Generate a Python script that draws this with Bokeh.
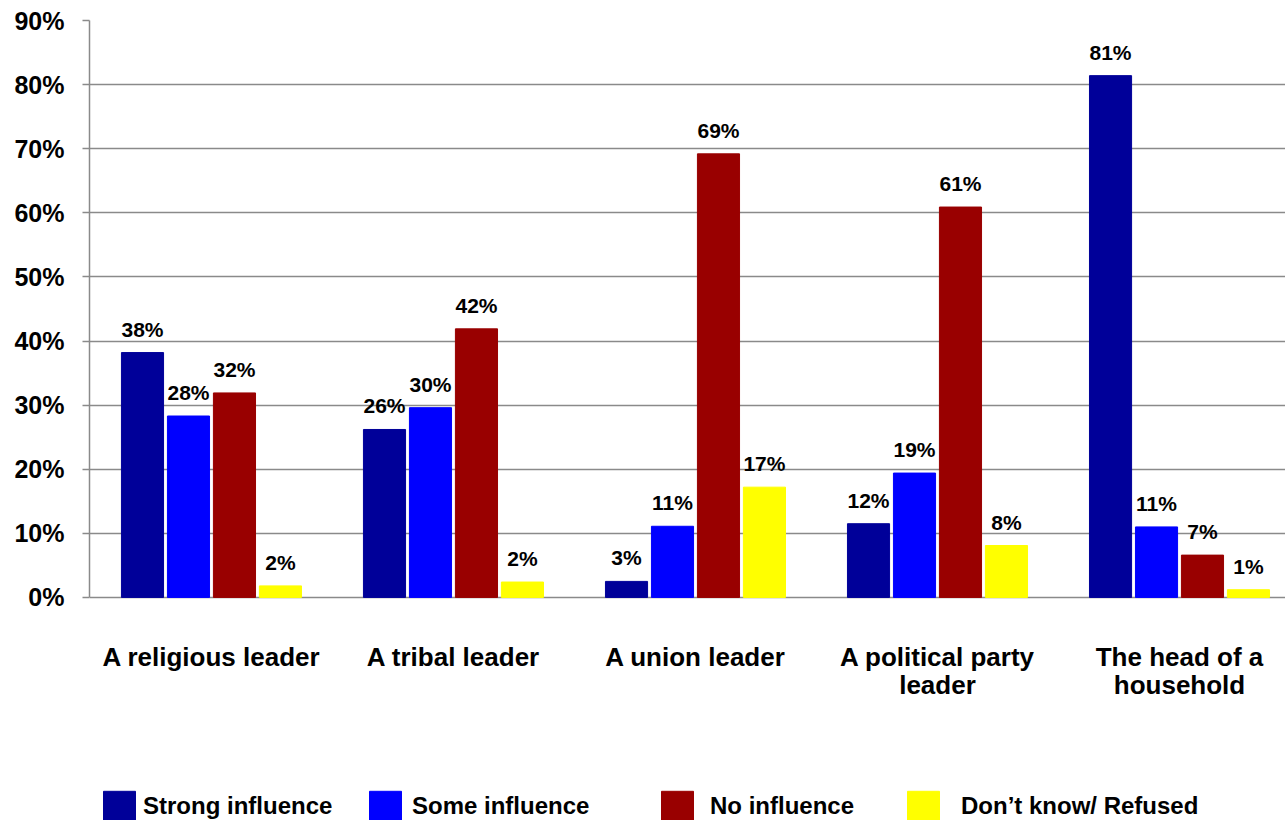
from bokeh.plotting import figure
from bokeh.models import (ColumnDataSource, Range1d, FixedTicker, Legend, LegendItem)
from bokeh.transform import dodge
from bokeh.core.properties import value
from bokeh.embed import file_html
from bokeh.resources import INLINE

# ---- data ----
categories = ["A religious leader", "A tribal leader", "A union leader",
              "A political party\nleader", "The head of a\nhousehold"]
series_names = ["Strong influence", "Some influence", "No influence", "Don\u2019t know/ Refused"]
strong = [38.2, 26.2, 2.5, 11.5, 81.4]
some = [28.3, 29.6, 11.1, 19.4, 11.0]
no_infl = [31.9, 41.9, 69.2, 60.9, 6.6]
dont_know = [1.8, 2.4, 17.2, 8.1, 1.2]
y_ticks = [0, 10, 20, 30, 40, 50, 60, 70, 80, 90]
colors = ["#000099", "#0000FF", "#990000", "#FFFF00"]

FONT = "Liberation Sans"

series = [strong, some, no_infl, dont_know]
x_idx = list(range(len(categories)))

# frame spans the whole lower area so the legend and category labels fit inside it
p = figure(width=1285, height=820, output_backend="svg", toolbar_location=None,
           x_range=Range1d(-0.504, 4.438), y_range=Range1d(-34.8, 90),
           min_border_left=89, min_border_right=0, min_border_top=20,
           min_border_bottom=0)
p.outline_line_color = None
p.background_fill_color = "white"
p.xaxis.visible = False

offsets = [-0.285, -0.095, 0.095, 0.285]
bar_w = 0.174
renderers = []
for name, vals, col, off in zip(series_names, series, colors, offsets):
    src = ColumnDataSource(dict(x=x_idx, y=vals,
                                lbl=[f"{int(v + 0.5)}%" for v in vals]))
    r = p.vbar(x=dodge("x", off, range=p.x_range), top="y", bottom=0, width=bar_w,
               source=src, fill_color=col, line_color=col, line_width=1)
    renderers.append(r)
    p.text(x=dodge("x", off, range=p.x_range), y="y", text="lbl", source=src,
           text_align="center", text_baseline="bottom", y_offset=-12,
           text_font=value(FONT), text_font_style="bold",
           text_font_size="21px", text_color="black")

# category labels under the 0% line
cat_src = ColumnDataSource(dict(x=x_idx, y=[0] * len(x_idx), t=categories))
p.text(x="x", y="y", text="t", source=cat_src, text_align="center",
       text_baseline="top", y_offset=45, text_font=value(FONT),
       text_font_style="bold", text_font_size="26px", text_color="black",
       text_line_height=0.92)

# grid (only 0..90)
p.xgrid.grid_line_color = None
p.ygrid.ticker = FixedTicker(ticks=y_ticks)
p.ygrid.grid_line_color = "#8a8a8a"
p.ygrid.grid_line_width = 1.5

# y axis
p.yaxis.ticker = FixedTicker(ticks=y_ticks)
p.yaxis.bounds = (0, 90)
p.yaxis.major_label_overrides = {t: f"{t}%" for t in y_ticks}
p.yaxis.axis_line_color = "#8a8a8a"
p.yaxis.axis_line_width = 1.5
p.yaxis.major_tick_line_color = "#8a8a8a"
p.yaxis.major_tick_line_width = 1.5
p.yaxis.major_tick_out = 7
p.yaxis.major_tick_in = 0
p.yaxis.minor_tick_line_color = None
p.yaxis.major_label_standoff = 18
p.yaxis.major_label_text_font = FONT
p.yaxis.major_label_text_font_style = "bold"
p.yaxis.major_label_text_font_size = "25px"
p.yaxis.major_label_text_color = "black"

# legends (one per item, positioned at the bottom of the frame)
legend_x = [10, 276, 568, 814]
legend_standoff = [4, 7, 13, 18]
for name, r, lx, sd in zip(series_names, renderers, legend_x, legend_standoff):
    lg = Legend(items=[LegendItem(label=name, renderers=[r])],
                location=(lx, -5), orientation="horizontal",
                glyph_width=40, glyph_height=38, label_standoff=sd,
                label_text_font=FONT, label_text_font_style="bold",
                label_text_font_size="24px", label_text_color="black",
                padding=0, margin=0, spacing=0,
                border_line_color=None, background_fill_alpha=0)
    p.add_layout(lg, "center")

open("out.html", "w").write(file_html(p, INLINE))
